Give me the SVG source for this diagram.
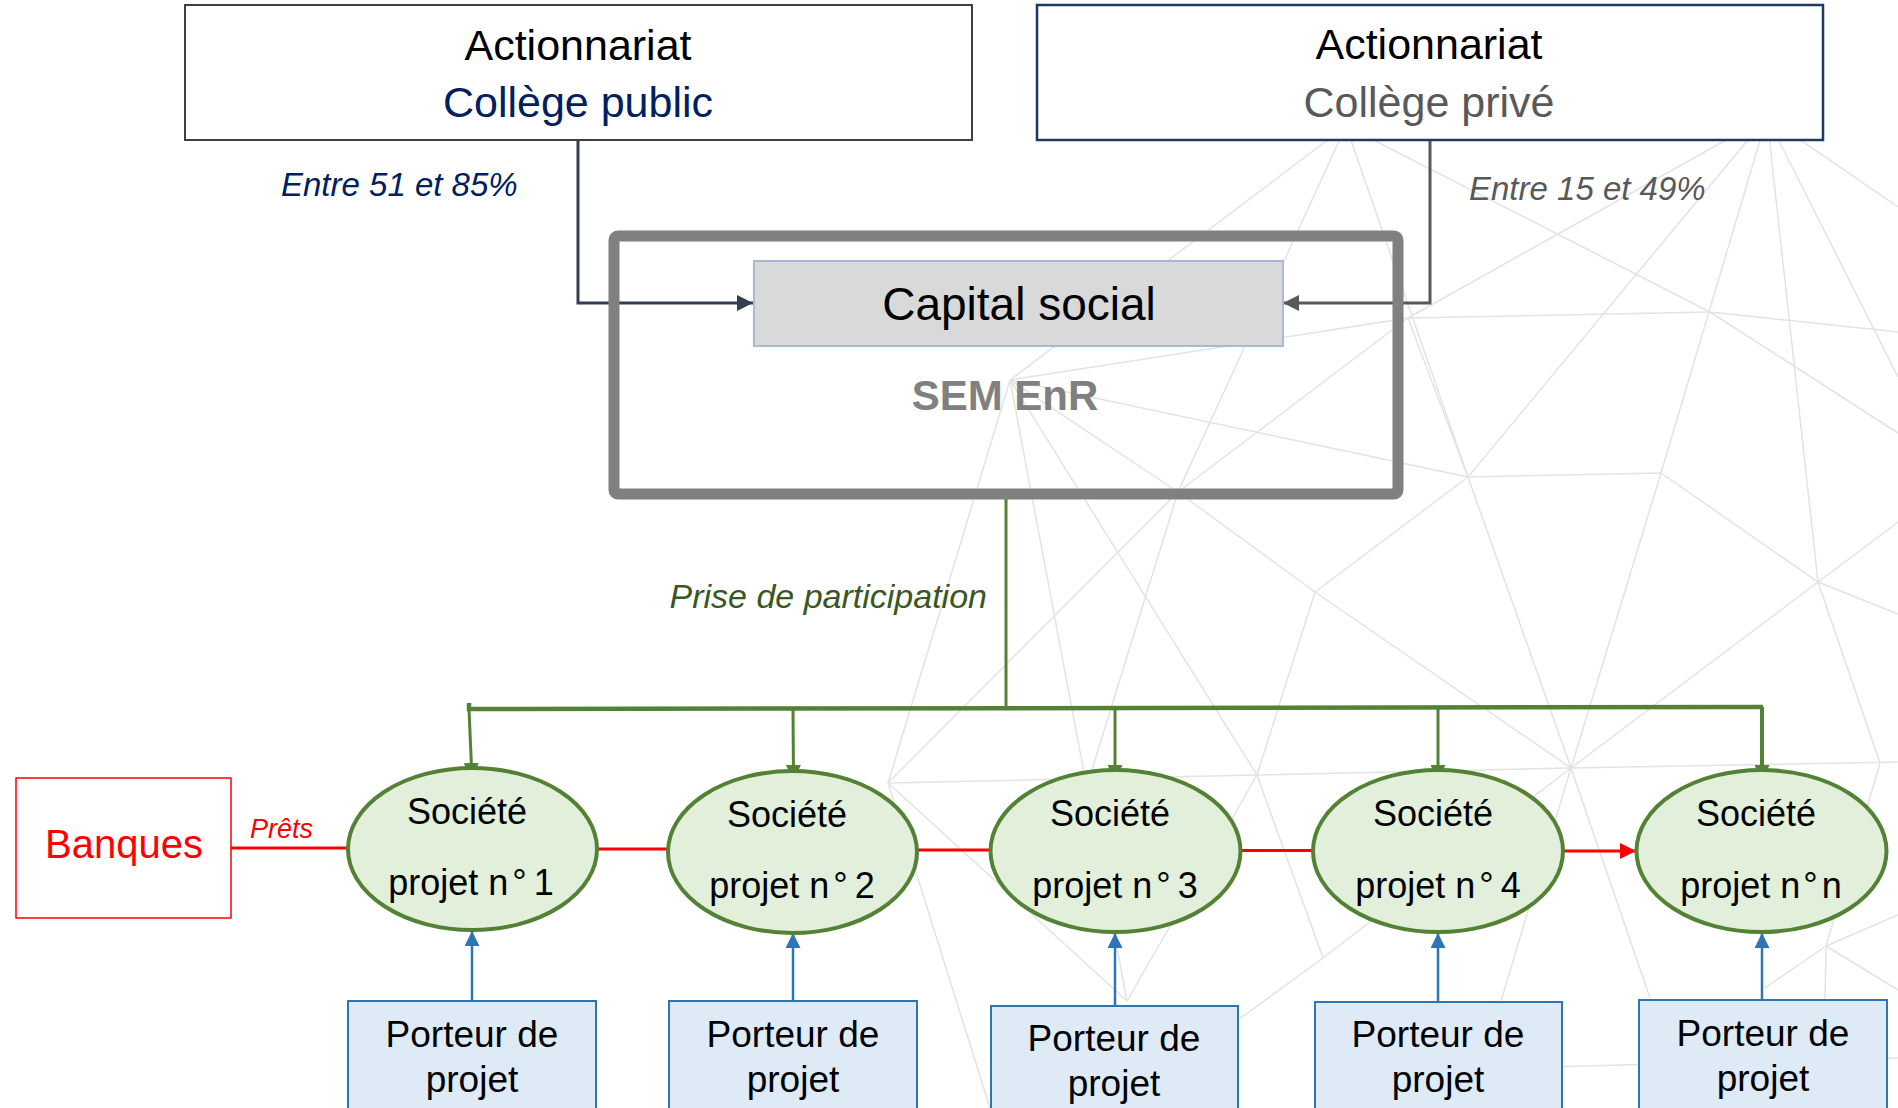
<svg xmlns="http://www.w3.org/2000/svg" width="1898" height="1108" viewBox="0 0 1898 1108">
<style>
  text { font-family: "Liberation Sans", Arial, sans-serif; }
  .bg line { stroke: #E3E3E3; stroke-width: 1.5; }
  .t-c { text-anchor: middle; }
  .it { font-style: italic; }
  .soc { fill: #E2EFDA; stroke: #548235; stroke-width: 4; }
  .por { fill: #DEEBF7; stroke: #2E75B6; stroke-width: 2; }
  .soc-t { font-size: 36px; fill: #000; text-anchor: middle; }
  .por-t { font-size: 37px; fill: #000; text-anchor: middle; }
  .green { stroke: #548235; fill: none; }
  .blue { stroke: #2E75B6; stroke-width: 2.5; fill: none; }
  .red { stroke: #FF0000; stroke-width: 3; fill: none; }
</style>
<defs>
  <marker id="arr-dark" markerUnits="userSpaceOnUse" markerWidth="16" markerHeight="16" refX="16" refY="8" orient="auto">
    <path d="M0,0 L16,8 L0,16 z" fill="#333F50"/>
  </marker>
  <marker id="arr-gray" markerUnits="userSpaceOnUse" markerWidth="16" markerHeight="16" refX="16" refY="8" orient="auto">
    <path d="M0,0 L16,8 L0,16 z" fill="#595959"/>
  </marker>
  <marker id="arr-green" markerUnits="userSpaceOnUse" markerWidth="16" markerHeight="15" refX="16" refY="7.5" orient="auto">
    <path d="M0,0 L16,7.5 L0,15 z" fill="#548235"/>
  </marker>
  <marker id="arr-blue" markerUnits="userSpaceOnUse" markerWidth="15" markerHeight="15" refX="15" refY="7.5" orient="auto">
    <path d="M0,0 L15,7.5 L0,15 z" fill="#2E75B6"/>
  </marker>
  <marker id="arr-red" markerUnits="userSpaceOnUse" markerWidth="16" markerHeight="16" refX="16" refY="8" orient="auto">
    <path d="M0,0 L16,8 L0,16 z" fill="#FF0000"/>
  </marker>
</defs>
<rect x="0" y="0" width="1898" height="1108" fill="#FFFFFF"/>

<g id="background" class="bg">
  <line x1="1346" y1="126" x2="1767" y2="117"/>
  <line x1="1346" y1="126" x2="1010" y2="380"/>
  <line x1="1346" y1="126" x2="1178" y2="492"/>
  <line x1="1346" y1="126" x2="1468" y2="477"/>
  <line x1="1346" y1="126" x2="1710" y2="312"/>
  <line x1="1767" y1="117" x2="1408" y2="318"/>
  <line x1="1767" y1="117" x2="1468" y2="477"/>
  <line x1="1767" y1="117" x2="1661" y2="473"/>
  <line x1="1767" y1="117" x2="1818" y2="582"/>
  <line x1="1767" y1="117" x2="1898" y2="207"/>
  <line x1="1767" y1="117" x2="1898" y2="377"/>
  <line x1="1010" y1="380" x2="1408" y2="318"/>
  <line x1="1010" y1="380" x2="1178" y2="492"/>
  <line x1="1010" y1="380" x2="1468" y2="477"/>
  <line x1="1010" y1="380" x2="888" y2="783"/>
  <line x1="1010" y1="380" x2="1127" y2="1001"/>
  <line x1="1010" y1="380" x2="1257" y2="775"/>
  <line x1="1408" y1="318" x2="1710" y2="312"/>
  <line x1="1408" y1="318" x2="1178" y2="492"/>
  <line x1="1408" y1="318" x2="1468" y2="477"/>
  <line x1="1710" y1="312" x2="1898" y2="332"/>
  <line x1="1710" y1="312" x2="1898" y2="433"/>
  <line x1="1178" y1="492" x2="1315" y2="592"/>
  <line x1="1178" y1="492" x2="888" y2="783"/>
  <line x1="1178" y1="492" x2="1050" y2="905"/>
  <line x1="1468" y1="477" x2="1661" y2="473"/>
  <line x1="1468" y1="477" x2="1315" y2="592"/>
  <line x1="1468" y1="477" x2="1571" y2="768"/>
  <line x1="1661" y1="473" x2="1818" y2="582"/>
  <line x1="1661" y1="473" x2="1571" y2="768"/>
  <line x1="1818" y1="582" x2="1898" y2="522"/>
  <line x1="1818" y1="582" x2="1898" y2="614"/>
  <line x1="1818" y1="582" x2="1571" y2="768"/>
  <line x1="1818" y1="582" x2="1880" y2="763"/>
  <line x1="1315" y1="592" x2="1257" y2="775"/>
  <line x1="1315" y1="592" x2="1571" y2="768"/>
  <line x1="1571" y1="768" x2="1898" y2="762"/>
  <line x1="888" y1="783" x2="1257" y2="775"/>
  <line x1="1257" y1="775" x2="1571" y2="768"/>
  <line x1="888" y1="783" x2="1127" y2="1001"/>
  <line x1="888" y1="783" x2="990" y2="1108"/>
  <line x1="1257" y1="775" x2="1323" y2="958"/>
  <line x1="1257" y1="775" x2="1127" y2="1001"/>
  <line x1="1571" y1="768" x2="1323" y2="958"/>
  <line x1="1571" y1="768" x2="1650" y2="998"/>
  <line x1="1571" y1="768" x2="1501" y2="1001"/>
  <line x1="1880" y1="763" x2="1826" y2="946"/>
  <line x1="1826" y1="946" x2="1898" y2="915"/>
  <line x1="1826" y1="946" x2="1765" y2="988"/>
  <line x1="1826" y1="946" x2="1898" y2="990"/>
  <line x1="1826" y1="946" x2="1823" y2="1108"/>
  <line x1="1500" y1="1068" x2="1898" y2="1058"/>
  <line x1="1323" y1="958" x2="1238" y2="1020"/>
</g>

<g id="connectors">
  <polyline points="578,141 578,303 753,303" fill="none" stroke="#333F50" stroke-width="3" marker-end="url(#arr-dark)"/>
  <polyline points="1430,141 1430,303 1283,303" fill="none" stroke="#595959" stroke-width="3" marker-end="url(#arr-gray)"/>
  <line class="green" x1="1006" y1="499" x2="1006" y2="709" stroke-width="3"/>
  <polyline class="green" points="469,703 469,709 1763,707" stroke-width="4.5"/>
  <line class="green" x1="469" y1="709" x2="472" y2="779" stroke-width="3" marker-end="url(#arr-green)"/>
  <line class="green" x1="793" y1="709" x2="793.5" y2="781" stroke-width="3" marker-end="url(#arr-green)"/>
  <line class="green" x1="1115" y1="708" x2="1115" y2="781" stroke-width="3" marker-end="url(#arr-green)"/>
  <line class="green" x1="1438" y1="708" x2="1438" y2="781" stroke-width="3" marker-end="url(#arr-green)"/>
  <line class="green" x1="1762" y1="707" x2="1762" y2="781" stroke-width="4" marker-end="url(#arr-green)"/>
  <line class="red" x1="231" y1="848" x2="348" y2="848"/>
  <line class="red" x1="597" y1="849" x2="668" y2="849"/>
  <line class="red" x1="917" y1="850" x2="991" y2="850"/>
  <line class="red" x1="1240" y1="850.5" x2="1313" y2="850.5"/>
  <line class="red" x1="1563" y1="851" x2="1636" y2="851" marker-end="url(#arr-red)"/>
  <line class="blue" x1="472" y1="1001" x2="472" y2="931" marker-end="url(#arr-blue)"/>
  <line class="blue" x1="793" y1="1001" x2="793" y2="933" marker-end="url(#arr-blue)"/>
  <line class="blue" x1="1115" y1="1006" x2="1115" y2="933" marker-end="url(#arr-blue)"/>
  <line class="blue" x1="1438" y1="1002" x2="1438" y2="933" marker-end="url(#arr-blue)"/>
  <line class="blue" x1="1762" y1="1000" x2="1762" y2="933" marker-end="url(#arr-blue)"/>
</g>

<g id="label-public-pct">
  <text x="281" y="196" class="it" font-size="33" fill="#002060">Entre 51 et 85%</text>
</g>
<g id="label-prive-pct">
  <text x="1469" y="200" class="it" font-size="33" fill="#595959">Entre 15 et 49%</text>
</g>
<g id="label-participation">
  <text x="987" y="608" class="it" font-size="34" fill="#385723" text-anchor="end">Prise de participation</text>
</g>
<g id="label-prets">
  <text x="250" y="838" class="it" font-size="27" fill="#FF0000">Prêts</text>
</g>

<g id="node-college-public">
  <rect x="185" y="5" width="787" height="135" fill="#FFFFFF" stroke="#404040" stroke-width="2"/>
  <text x="578" y="60" class="t-c" font-size="43" fill="#000000">Actionnariat</text>
  <text x="578" y="117" class="t-c" font-size="43" fill="#002060">Collège public</text>
</g>

<g id="node-college-prive">
  <rect x="1037" y="5" width="786" height="135" fill="#FFFFFF" stroke="#1F3864" stroke-width="2.5"/>
  <text x="1429" y="59" class="t-c" font-size="43" fill="#000000">Actionnariat</text>
  <text x="1429" y="117" class="t-c" font-size="43" fill="#595959">Collège privé</text>
</g>

<g id="node-sem-enr">
  <rect x="614" y="236" width="784" height="258" rx="4" fill="none" stroke="#808080" stroke-width="11"/>
  <text x="1005" y="410" class="t-c" font-size="42" font-weight="bold" fill="#808080">SEM EnR</text>
</g>

<g id="node-capital-social">
  <rect x="754" y="261" width="529" height="85" fill="#D9D9D9" stroke="#A9B9D2" stroke-width="2"/>
  <text x="1019" y="320" class="t-c" font-size="46" fill="#000000">Capital social</text>
</g>

<g id="node-banques">
  <rect x="16" y="778" width="215" height="140" fill="#FFFFFF" stroke="#FF0000" stroke-width="1.5"/>
  <text x="124" y="858" class="t-c" font-size="40" fill="#FF0000">Banques</text>
</g>

<g id="node-sp1">
  <ellipse class="soc" cx="472.5" cy="849" rx="124.5" ry="81"/>
  <text class="soc-t" x="467" y="824">Société</text>
  <text class="soc-t" x="471" y="895">projet n<tspan dx="4">°</tspan><tspan dx="7">1</tspan></text>
</g>
<g id="node-sp2">
  <ellipse class="soc" cx="792.5" cy="852" rx="124.5" ry="81"/>
  <text class="soc-t" x="787" y="827">Société</text>
  <text class="soc-t" x="792" y="898">projet n<tspan dx="4">°</tspan><tspan dx="7">2</tspan></text>
</g>
<g id="node-sp3">
  <ellipse class="soc" cx="1115.5" cy="851" rx="125" ry="81"/>
  <text class="soc-t" x="1110" y="826">Société</text>
  <text class="soc-t" x="1115" y="898">projet n<tspan dx="4">°</tspan><tspan dx="7">3</tspan></text>
</g>
<g id="node-sp4">
  <ellipse class="soc" cx="1438" cy="851" rx="125" ry="81"/>
  <text class="soc-t" x="1433" y="826">Société</text>
  <text class="soc-t" x="1438" y="898">projet n<tspan dx="4">°</tspan><tspan dx="7">4</tspan></text>
</g>
<g id="node-spn">
  <ellipse class="soc" cx="1761.5" cy="851" rx="125" ry="81"/>
  <text class="soc-t" x="1756" y="826">Société</text>
  <text class="soc-t" x="1761" y="898">projet n<tspan dx="3">°</tspan><tspan dx="4">n</tspan></text>
</g>

<g id="node-pp1">
  <rect class="por" x="348" y="1001" width="248" height="120"/>
  <text class="por-t" x="472" y="1047">Porteur de</text>
  <text class="por-t" x="472" y="1092">projet</text>
</g>
<g id="node-pp2">
  <rect class="por" x="669" y="1001" width="248" height="120"/>
  <text class="por-t" x="793" y="1047">Porteur de</text>
  <text class="por-t" x="793" y="1092">projet</text>
</g>
<g id="node-pp3">
  <rect class="por" x="991" y="1006" width="247" height="120"/>
  <text class="por-t" x="1114" y="1051">Porteur de</text>
  <text class="por-t" x="1114" y="1096">projet</text>
</g>
<g id="node-pp4">
  <rect class="por" x="1315" y="1002" width="247" height="120"/>
  <text class="por-t" x="1438" y="1047">Porteur de</text>
  <text class="por-t" x="1438" y="1092">projet</text>
</g>
<g id="node-ppn">
  <rect class="por" x="1639" y="1000" width="248" height="120"/>
  <text class="por-t" x="1763" y="1046">Porteur de</text>
  <text class="por-t" x="1763" y="1091">projet</text>
</g>
</svg>
